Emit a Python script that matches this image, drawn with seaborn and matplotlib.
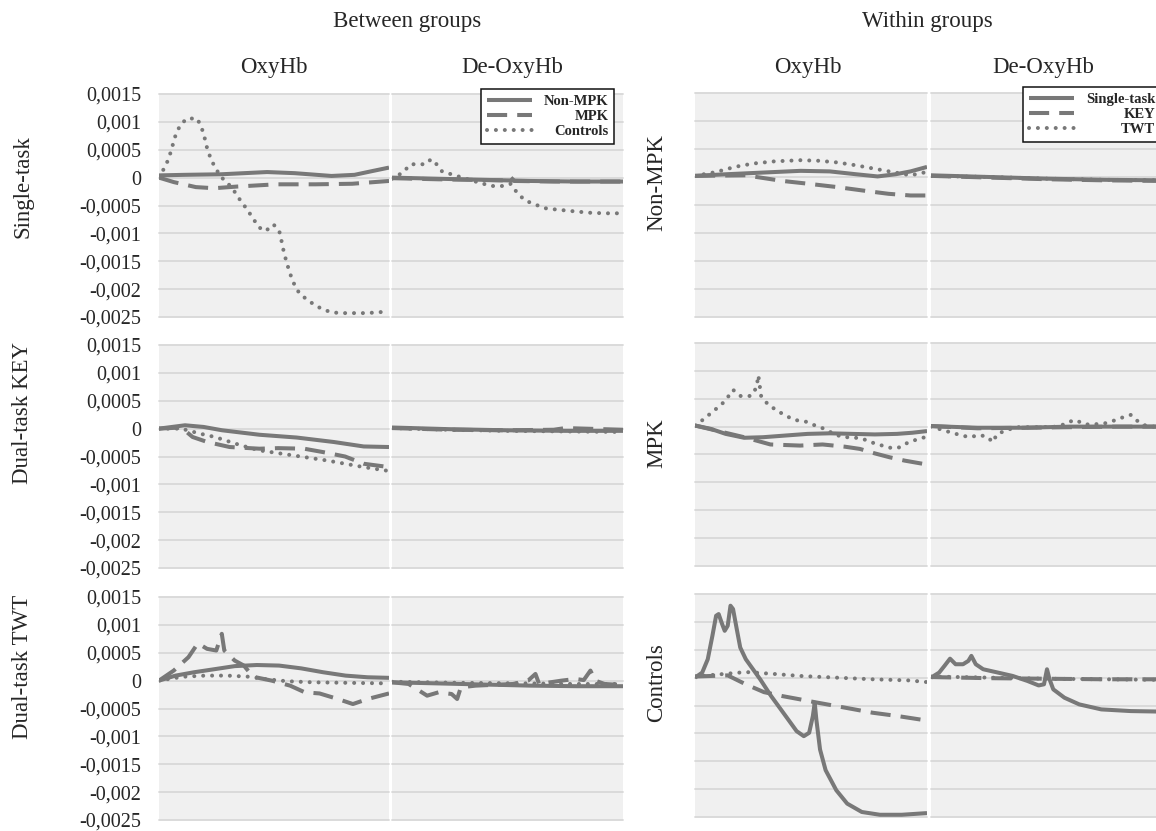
import matplotlib
matplotlib.use("Agg")
import matplotlib.pyplot as plt
import seaborn as sns
import pandas as pd

# ---------------- data (x = % of trial time, y = concentration change) ----------------
# Between groups: series Non-MPK / MPK / Controls
p1_nonmpk_x = [0, 11, 27, 47, 59, 75, 85, 93, 100]
p1_nonmpk_y = [0.00004, 0.00005, 0.00006, 0.0001, 0.00008, 0.00003, 0.00005, 0.00012, 0.00018]
p1_mpk_x = [0, 6.4, 16, 24, 34, 51, 68, 84, 100]
p1_mpk_y = [0.0, -0.00008, -0.00017, -0.00019, -0.00016, -0.00012, -0.00012, -0.00011, -0.00006]
p1_ctrl_x = [0, 3.2, 4.8, 7.2, 9.2, 12.1, 16.6, 18.5, 19.8, 20.9, 22.5, 24.4, 27.0, 29.7, 32.5, 35.4,
             38.3, 40.7, 43.4, 46.3, 49.8, 52.3, 53.4, 54.3, 55.5, 56.8, 58.4, 60.8, 63.5, 67.5, 71.5,
             75.6, 80.4, 90, 94, 100]
p1_ctrl_y = [0.0, 0.00024, 0.00042, 0.00076, 0.00094, 0.00106, 0.00106, 0.0009, 0.00072, 0.00053,
             0.00034, 0.00018, 0.00001, -0.00009, -0.00023, -0.00041, -0.00057, -0.00072, -0.00089,
             -0.00096, -0.00084, -0.00096, -0.00116, -0.00134, -0.00152, -0.0017, -0.00188, -0.00206,
             -0.00216, -0.00228, -0.00237, -0.00242, -0.00243, -0.00243, -0.00242, -0.0024]

p2_nonmpk_x = [0, 20, 40, 60, 80, 100]
p2_nonmpk_y = [0.0, -0.00002, -0.00004, -0.00006, -0.00007, -0.00007]
p2_mpk_x = [0, 20, 49, 51, 53, 70, 100]
p2_mpk_y = [-0.00001, -0.00003, -0.00005, 0.00002, -0.00006, -0.00007, -0.00007]
p2_ctrl_x = [0, 4.6, 8.1, 11.3, 14.5, 16.9, 19.3, 21.7, 25.7, 30.5, 38.5, 43.3, 48.1, 51.3, 54.5,
             57.7, 61.8, 66.5, 70.6, 75.4, 80.2, 85.7, 92.2, 100]
p2_ctrl_y = [-0.00002, 0.00009, 0.00024, 0.00024, 0.00024, 0.00033, 0.00024, 0.00011, 0.00006, 0.0,
             -0.0001, -0.00015, -0.00015, -0.00011, -0.00029, -0.00041, -0.00048, -0.00055, -0.00057,
             -0.00059, -0.00061, -0.00063, -0.00064, -0.00064]

p3_nonmpk_x = [0, 11.3, 19.4, 27.5, 43.7, 59.9, 76, 89, 100]
p3_nonmpk_y = [0.0, 0.00006, 0.00003, -0.00003, -0.00011, -0.00016, -0.00024, -0.00032, -0.00033]
p3_mpk_x = [0, 9.7, 14.6, 21, 30.7, 43.7, 51.8, 63.1, 71.2, 80.9, 89, 100]
p3_mpk_y = [0.0, 0.00002, -0.00015, -0.00024, -0.00033, -0.00036, -0.00035, -0.00036, -0.00042,
            -0.0005, -0.00063, -0.00069]
p3_ctrl_x = [0, 9.7, 17.8, 24.3, 35.6, 43.7, 53.4, 63.1, 72.8, 80.9, 89, 100]
p3_ctrl_y = [0.0, 0.0, -0.00009, -0.00015, -0.0003, -0.00039, -0.00045, -0.00051, -0.00057, -0.00063,
             -0.00069, -0.00076]

p4_nonmpk_x = [0, 25, 50, 75, 100]
p4_nonmpk_y = [0.00002, -0.00001, -0.00003, -0.00004, -0.00004]
p4_mpk_x = [0, 25, 50, 70, 75, 100]
p4_mpk_y = [0.00001, -0.00002, -0.00003, -0.00002, 0.00001, -0.00002]
p4_ctrl_x = [0, 25, 50, 75, 100]
p4_ctrl_y = [0.00001, -0.00002, -0.00004, -0.00005, -0.00006]

p9_nonmpk_x = [0, 7.2, 15.2, 23.3, 32.9, 42.5, 52.2, 61.8, 71.4, 81.1, 90.7, 100]
p9_nonmpk_y = [0.0, 0.00009, 0.00015, 0.0002, 0.00026, 0.00028, 0.00027, 0.00022, 0.00015, 0.00009,
               0.00006, 0.00005]
p9_mpk_x = [0, 6.4, 12.8, 16.9, 20.9, 24.9, 27.3, 28.4, 32.9, 36.9, 40.9, 49, 57, 63.4, 69.8, 77.8,
            84.3, 90.7, 100]
p9_mpk_y = [0.0, 0.00018, 0.00042, 0.00067, 0.00057, 0.00054, 0.00084, 0.00054, 0.00036, 0.00027,
            0.00007, 0.0, -0.00009, -0.00021, -0.00023, -0.00033, -0.00042, -0.00033, -0.00023]
p9_ctrl_x = [0, 10.4, 20.1, 29.7, 39.3, 45.7, 55.4, 66.6, 82.7, 100]
p9_ctrl_y = [0.0, 0.00007, 0.00009, 0.00009, 0.00007, 0.00003, -0.00001, -0.00003, -0.00004, -0.00005]

p10_nonmpk_x = [0, 30, 60, 80, 100]
p10_nonmpk_y = [-0.00003, -0.00006, -0.00009, -0.0001, -0.0001]
p10_mpk_x = [0, 7.2, 15.2, 20.1, 25.8, 28.2, 29.8, 36.2, 52.4, 58.9, 62.1, 63.7, 73.4, 79.5, 83, 85.9,
             88, 92, 100]
p10_mpk_y = [-0.00003, -0.00006, -0.00027, -0.00021, -0.00024, -0.00033, -0.00012, -0.00009, -0.00006,
             0.0, 0.00012, -0.00006, 0.0, 0.00003, 0.00001, 0.00018, 0.0, -0.00006, -0.00008]
p10_ctrl_x = [0, 30, 60, 80, 100]
p10_ctrl_y = [-0.00002, -0.00004, -0.00005, -0.00006, -0.00006]

# Within groups: series Single-task / KEY / TWT
p5_single_x = [0, 13.9, 29.7, 45.5, 58.1, 69.2, 78.7, 86.6, 92.9, 100]
p5_single_y = [0.00002, 0.00005, 0.00008, 0.00011, 0.0001, 0.00005, 0.00001, 0.00005, 0.0001, 0.00018]
p5_key_x = [0, 21.8, 31.3, 37.6, 48.7, 61.3, 73.9, 83.4, 92.9, 100]
p5_key_y = [0.00002, 0.00003, -0.00003, -0.00007, -0.00012, -0.00018, -0.00025, -0.0003, -0.00033,
            -0.00033]
p5_twt_x = [0, 9.2, 17.1, 25, 34.4, 45.5, 53.4, 61.3, 69.2, 77.1, 85, 92.9, 100]
p5_twt_y = [0.00002, 0.00009, 0.00018, 0.00024, 0.00028, 0.0003, 0.00029, 0.00026, 0.00021, 0.00015,
            0.00009, 0.00003, 0.00009]

p6_single_x = [0, 25, 50, 75, 100]
p6_single_y = [0.00003, 0.0, -0.00003, -0.00005, -0.00006]
p6_key_x = [0, 25, 50, 75, 100]
p6_key_y = [0.00002, -0.00001, -0.00004, -0.00006, -0.00007]
p6_twt_x = [0, 25, 50, 75, 100]
p6_twt_y = [0.00002, 0.0, -0.00003, -0.00005, -0.00006]

p7_single_x = [0, 6.8, 13.2, 21.2, 29.3, 38.9, 48.6, 58.2, 67.8, 77.5, 87.1, 93.6, 100]
p7_single_y = [0.00002, -0.00004, -0.00013, -0.0002, -0.00019, -0.00016, -0.00013, -0.00012, -0.00013,
               -0.00014, -0.00013, -0.00011, -0.00008]
p7_key_x = [0, 21.2, 32.5, 45.3, 55, 64.6, 71.1, 77.5, 83.9, 90.4, 100]
p7_key_y = [0.00002, -0.00019, -0.00032, -0.00034, -0.00032, -0.00036, -0.0004, -0.00048, -0.00055,
            -0.00061, -0.00068]
p7_twt_x = [0, 4.3, 7.6, 11.3, 14, 16.4, 19.6, 24.1, 26.5, 27.3, 28.5, 31.4, 34.9, 38.9, 42.9, 47.7,
            51.8, 55.8, 59.8, 63.8, 67.8, 72.3, 76.7, 80.7, 85.2, 88.4, 92, 96.5, 100]
p7_twt_y = [0.00002, 0.00015, 0.00027, 0.00039, 0.00052, 0.00066, 0.00055, 0.00055, 0.0007, 0.00092,
            0.00055, 0.0004, 0.0003, 0.0002, 0.00012, 0.00009, 0.00002, -0.00004, -0.00013, -0.00019,
            -0.00019, -0.00022, -0.00029, -0.00034, -0.00039, -0.00037, -0.00028, -0.00022, -0.00018]

p8_single_x = [0, 20, 40, 60, 80, 100]
p8_single_y = [0.00001, -0.00002, -0.00002, 0.0, 0.0, 0.0]
p8_key_x = [0, 20, 40, 60, 80, 100]
p8_key_y = [0.00001, -0.00003, -0.00002, -0.00001, 0.0, 0.0]
p8_twt_x = [0, 4.2, 8.2, 12.5, 16.6, 21, 24.6, 26.5, 28.6, 32.9, 36.8, 46.4, 55.1, 59.1, 62.3, 66.2,
            70.2, 75, 79, 82.9, 86.1, 89.3, 93.3, 100]
p8_twt_y = [0.0, -0.00005, -0.0001, -0.00015, -0.00019, -0.00015, -0.00019, -0.00028, -0.00013,
            -0.00006, -0.00001, -0.00001, 0.0, 0.00008, 0.00012, 0.00004, 0.00004, 0.00006, 0.00011,
            0.00017, 0.00021, 0.00009, 0.0, 0.0]

p11_single_x = [0, 3.1, 5.5, 7.5, 9.1, 10.2, 11.7, 12.8, 14.1, 15.3, 16.4, 18, 19.5, 21.9, 25, 28.1,
                32.8, 39.1, 43.8, 46.9, 49.2, 50.8, 51.6, 52.3, 53.9, 56.3, 60.9, 65.6, 71.9, 79.7,
                89.1, 100]
p11_single_y = [0.0, 0.00009, 0.00033, 0.00075, 0.00111, 0.00114, 0.00096, 0.00084, 0.00093, 0.00129,
                0.00123, 0.00087, 0.00054, 0.00033, 0.00015, -0.00003, -0.00033, -0.00069, -0.00096,
                -0.00105, -0.00099, -0.00069, -0.00045, -0.00075, -0.00129, -0.00166, -0.00202,
                -0.00226, -0.00241, -0.00246, -0.00246, -0.00243]
p11_key_x = [0, 14.1, 21.9, 29.7, 37.5, 45.3, 51.6, 60.9, 76.6, 87.5, 100]
p11_key_y = [0.00002, 0.00004, -0.00012, -0.00026, -0.00033, -0.00039, -0.00044, -0.00051, -0.00063,
             -0.00069, -0.00077]
p11_twt_x = [0, 10.9, 21.9, 32.8, 45.3, 60.9, 76.6, 92.2, 100]
p11_twt_y = [0.00002, 0.00006, 0.0001, 0.00007, 0.00003, 0.0, -0.00003, -0.00005, -0.00008]

p12_single_x = [0, 3.5, 5.8, 8.2, 10.6, 13.8, 16.1, 17.4, 19.3, 22.5, 28.9, 35.2, 41.6, 46.4, 48.7,
                50.0, 51.1, 52.7, 57.5, 63.9, 73.4, 86.1, 100]
p12_single_y = [0.0, 0.00009, 0.00021, 0.00034, 0.00024, 0.00024, 0.0003, 0.00039, 0.00024, 0.00015,
                0.00009, 0.00003, -0.00006, -0.00014, -0.00012, 0.00015, -0.00003, -0.00021, -0.00036,
                -0.00048, -0.00057, -0.0006, -0.00061]
p12_key_x = [0, 25, 50, 75, 100]
p12_key_y = [0.00001, -0.00001, -0.00002, -0.00003, -0.00003]
p12_twt_x = [0, 25, 50, 75, 100]
p12_twt_y = [0.00002, 0.0, -0.00002, -0.00003, -0.00004]

y_ticks = [-0.0025, -0.002, -0.0015, -0.001, -0.0005, 0, 0.0005, 0.001, 0.0015]
y_tick_labels = ["-0,0025", "-0,002", "-0,0015", "-0,001", "-0,0005", "0", "0,0005", "0,001", "0,0015"]

between_series = ["Non-MPK", "MPK", "Controls"]
within_series = ["Single-task", "KEY", "TWT"]
between_rows = ["Single-task", "Dual-task KEY", "Dual-task TWT"]
within_rows = ["Non-MPK", "MPK", "Controls"]
measures = ["OxyHb", "De-OxyHb"]
group_titles = ["Between groups", "Within groups"]

# ---------------- style ----------------
sns.set_theme(style="white")
plt.rcParams["font.family"] = ["Liberation Serif", "DejaVu Serif"]

W, H = 1156, 831
fig = plt.figure(figsize=(W / 100, H / 100), dpi=100)
LINE = "#787878"
TXT = "#262626"
BG = "#f0f0f0"
GRID = "#d8d8d8"
LW = 2.9

cols_px = [(159, 389), (392, 623), (695, 927), (931, 1163)]
rows_left = [(94, 317), (345, 568), (597, 820)]
rows_right = [(93, 317), (343, 566), (594, 817)]


def add_ax(x0, x1, y0, y1):
    return fig.add_axes([x0 / W, 1 - y1 / H, (x1 - x0) / W, (y1 - y0) / H])


panel_data = {
    (0, 0): [(p1_nonmpk_x, p1_nonmpk_y), (p1_mpk_x, p1_mpk_y), (p1_ctrl_x, p1_ctrl_y)],
    (0, 1): [(p2_nonmpk_x, p2_nonmpk_y), (p2_mpk_x, p2_mpk_y), (p2_ctrl_x, p2_ctrl_y)],
    (1, 0): [(p3_nonmpk_x, p3_nonmpk_y), (p3_mpk_x, p3_mpk_y), (p3_ctrl_x, p3_ctrl_y)],
    (1, 1): [(p4_nonmpk_x, p4_nonmpk_y), (p4_mpk_x, p4_mpk_y), (p4_ctrl_x, p4_ctrl_y)],
    (2, 0): [(p9_nonmpk_x, p9_nonmpk_y), (p9_mpk_x, p9_mpk_y), (p9_ctrl_x, p9_ctrl_y)],
    (2, 1): [(p10_nonmpk_x, p10_nonmpk_y), (p10_mpk_x, p10_mpk_y), (p10_ctrl_x, p10_ctrl_y)],
    (0, 2): [(p5_single_x, p5_single_y), (p5_key_x, p5_key_y), (p5_twt_x, p5_twt_y)],
    (0, 3): [(p6_single_x, p6_single_y), (p6_key_x, p6_key_y), (p6_twt_x, p6_twt_y)],
    (1, 2): [(p7_single_x, p7_single_y), (p7_key_x, p7_key_y), (p7_twt_x, p7_twt_y)],
    (1, 3): [(p8_single_x, p8_single_y), (p8_key_x, p8_key_y), (p8_twt_x, p8_twt_y)],
    (2, 2): [(p11_single_x, p11_single_y), (p11_key_x, p11_key_y), (p11_twt_x, p11_twt_y)],
    (2, 3): [(p12_single_x, p12_single_y), (p12_key_x, p12_key_y), (p12_twt_x, p12_twt_y)],
}

axes = {}
for (r, c), series in panel_data.items():
    names = between_series if c < 2 else within_series
    rows = rows_left if c < 2 else rows_right
    ax = add_ax(cols_px[c][0], cols_px[c][1], rows[r][0], rows[r][1])
    frames = []
    for name, (xs, ys) in zip(names, series):
        frames.append(pd.DataFrame({"t": xs, "v": ys, "series": name}))
    df = pd.concat(frames, ignore_index=True)
    dash_map = {names[0]: "", names[1]: (5, 2.5), names[2]: (0.01, 2.2)}
    sns.lineplot(data=df, x="t", y="v", style="series", style_order=names, dashes=dash_map,
                 color=LINE, linewidth=LW, estimator=None, sort=False, legend=False, ax=ax)
    for i, ln in enumerate(ax.lines):
        ln.set_solid_capstyle("butt")
        ln.set_dash_capstyle("round" if i == 2 else "butt")
    ax.set_facecolor(BG)
    ax.set_xlim(0, 100)
    ax.set_ylim(-0.0025, 0.0015)
    ax.set_yticks(y_ticks)
    ax.set_xticks([])
    ax.set_xlabel("")
    ax.set_ylabel("")
    ax.set_axisbelow(True)
    ax.yaxis.grid(True, color=GRID, lw=1.3)
    ax.xaxis.grid(False)
    for gl in ax.get_ygridlines():
        gl.set_clip_on(False)
    for s in ax.spines.values():
        s.set_visible(False)
    if c == 0:
        ax.set_yticklabels(y_tick_labels)
        ax.tick_params(axis="y", length=0, pad=13, labelsize=14.5, labelcolor=TXT)
    else:
        ax.tick_params(axis="y", length=0, labelleft=False)
    axes[(r, c)] = ax

# ---------------- titles ----------------
fig.text(407 / W, 1 - 22 / H, group_titles[0], ha="center", va="center", fontsize=16.5, color=TXT)
fig.text(927 / W, 1 - 22 / H, group_titles[1], ha="center", va="center", fontsize=16.5, color=TXT)
for xc, m in zip([274, 512, 808, 1043], measures * 2):
    fig.text(xc / W, 1 - 67 / H, m, ha="center", va="center", fontsize=16.5, color=TXT)
for yc, lab in zip([187, 413, 667], between_rows):
    fig.text(23 / W, 1 - yc / H, lab, ha="center", va="center", rotation=90, fontsize=16.5, color=TXT)
for yc, lab in zip([183, 443, 683], within_rows):
    fig.text(657 / W, 1 - yc / H, lab, ha="center", va="center", rotation=90, fontsize=16.5, color=TXT)

# ---------------- legends ----------------
legs = []
for c, names, (lx, ly) in [(1, between_series, (481, 89)), (3, within_series, (1023, 87))]:
    ax = axes[(0, c)]
    leg = ax.legend(handles=ax.lines[:3], labels=names, loc="upper left",
                    bbox_to_anchor=(lx / W, 1 - ly / H), bbox_transform=fig.transFigure,
                    borderaxespad=0, frameon=True, fancybox=False, framealpha=1,
                    edgecolor="#111111", facecolor="white", handlelength=3.1,
                    handletextpad=0.8, labelspacing=0.12, borderpad=0.4,
                    prop={"family": "Liberation Serif", "weight": "bold", "size": 10.5})
    leg.get_frame().set_linewidth(1.1)
    for t in leg.get_texts():
        t.set_color(TXT)
    legs.append(leg)

fig.canvas.draw()
renderer = fig.canvas.get_renderer()
for leg in legs:
    texts = leg.get_texts()
    widths = [t.get_window_extent(renderer).width for t in texts]
    mw = max(widths)
    for t, w in zip(texts, widths):
        t.set_position((mw - w, 0))

fig.savefig("out.png", dpi=100, facecolor="white")
